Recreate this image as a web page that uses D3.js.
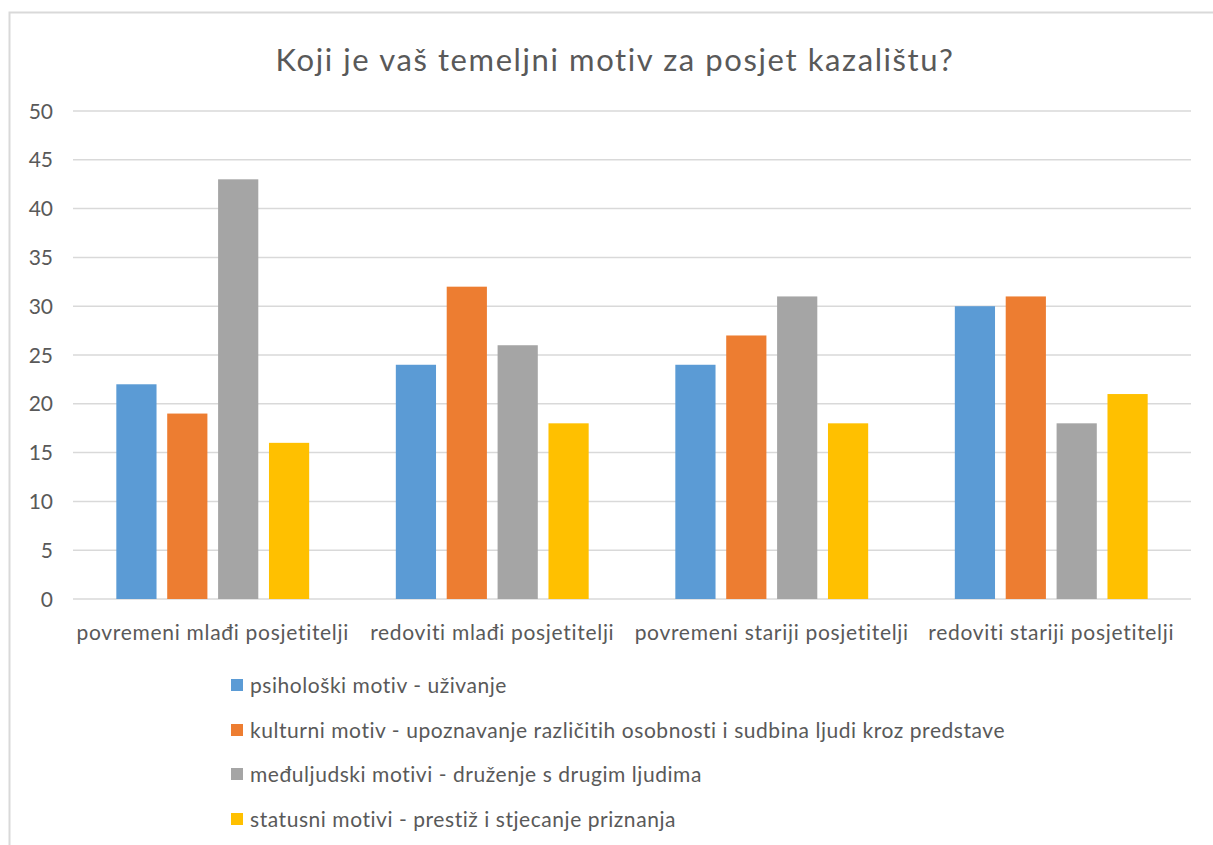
<!DOCTYPE html>
<html>
<head>
<meta charset="utf-8">
<script src="https://cdn.jsdelivr.net/npm/d3@7"></script>
<style>
  body { margin: 0; background: #fff; }
  text { font-family: Lato, "Open Sans", sans-serif; fill: #595959; }
</style>
</head>
<body>
<svg id="chart" width="1213" height="845"></svg>
<script>
// chart data
var categories = ["povremeni mlađi posjetitelji", "redoviti mlađi posjetitelji",
                  "povremeni stariji posjetitelji", "redoviti stariji posjetitelji"];
var seriesNames = ["psihološki motiv - uživanje",
                   "kulturni motiv - upoznavanje različitih osobnosti i sudbina ljudi kroz predstave",
                   "međuljudski motivi - druženje s drugim ljudima",
                   "statusni motivi - prestiž i stjecanje priznanja"];
var psiholoski = [22, 24, 24, 30];
var kulturni = [19, 32, 27, 31];
var medjuljudski = [43, 26, 31, 18];
var statusni = [16, 18, 18, 21];
var yTicks = [0, 5, 10, 15, 20, 25, 30, 35, 40, 45, 50];
var colors = ["#5b9bd5", "#ed7d31", "#a5a5a5", "#ffc000"];

var seriesValues = [psiholoski, kulturni, medjuljudski, statusni];

var svg = d3.select("#chart");

// outer border
svg.append("rect")
  .attr("x", 9.5).attr("y", 12.5)
  .attr("width", 1220).attr("height", 850)
  .attr("fill", "none")
  .attr("stroke", "#d9d9d9")
  .attr("stroke-width", 2);

var plotLeft = 73, plotRight = 1191, plotTop = 111, plotBottom = 599;

var x0 = d3.scaleBand().domain(categories).range([plotLeft, plotRight]).padding(0);
var bw = x0.bandwidth();
var x1 = d3.scaleBand().domain(d3.range(4))
  .range([bw * 0.155, bw * 0.845])
  .paddingInner(0.21).paddingOuter(0);

var y = d3.scaleLinear().domain([0, 50]).range([plotBottom, plotTop]);

// gridlines
svg.append("g").selectAll("line")
  .data(yTicks)
  .enter().append("line")
  .attr("x1", plotLeft).attr("x2", plotRight)
  .attr("y1", function(d) { return y(d); })
  .attr("y2", function(d) { return y(d); })
  .attr("stroke", "#d9d9d9")
  .attr("stroke-width", 1.5);

// y tick labels
svg.append("g").selectAll("text")
  .data(yTicks)
  .enter().append("text")
  .attr("x", 53)
  .attr("y", function(d) { return y(d); })
  .attr("dy", "0.36em")
  .attr("text-anchor", "end")
  .style("font-size", "21px")
  .text(function(d) { return d; });

// bars
var groups = svg.append("g").selectAll("g")
  .data(categories)
  .enter().append("g")
  .attr("transform", function(d) { return "translate(" + x0(d) + ",0)"; });

groups.selectAll("rect")
  .data(function(d, i) { return seriesValues.map(function(s, j) { return { s: j, v: s[i] }; }); })
  .enter().append("rect")
  .attr("x", function(d) { return x1(d.s); })
  .attr("y", function(d) { return y(d.v); })
  .attr("width", x1.bandwidth())
  .attr("height", function(d) { return y(0) - y(d.v); })
  .attr("fill", function(d) { return colors[d.s]; });

// category labels
svg.append("g").selectAll("text")
  .data(categories)
  .enter().append("text")
  .attr("x", function(d) { return x0(d) + bw / 2; })
  .attr("y", 632)
  .attr("dy", "0.36em")
  .attr("text-anchor", "middle")
  .style("font-size", "21px")
  .style("letter-spacing", "0.7px")
  .text(function(d) { return d; });

// title
svg.append("text")
  .attr("x", 615)
  .attr("y", 60)
  .attr("dy", "0.36em")
  .attr("text-anchor", "middle")
  .style("font-size", "31px")
  .style("letter-spacing", "1.6px")
  .text("Koji je vaš temeljni motiv za posjet kazalištu?");

// legend
var legendY = [685, 730, 774, 819];
var legend = svg.append("g").selectAll("g")
  .data(seriesNames)
  .enter().append("g")
  .attr("transform", function(d, i) { return "translate(231," + legendY[i] + ")"; });

legend.append("rect")
  .attr("x", 0).attr("y", -6)
  .attr("width", 12).attr("height", 12)
  .attr("fill", function(d, i) { return colors[i]; });

legend.append("text")
  .attr("x", 19)
  .attr("dy", "0.36em")
  .style("font-size", "21px")
  .style("letter-spacing", "0.55px")
  .text(function(d) { return d; });
</script>
</body>
</html>
